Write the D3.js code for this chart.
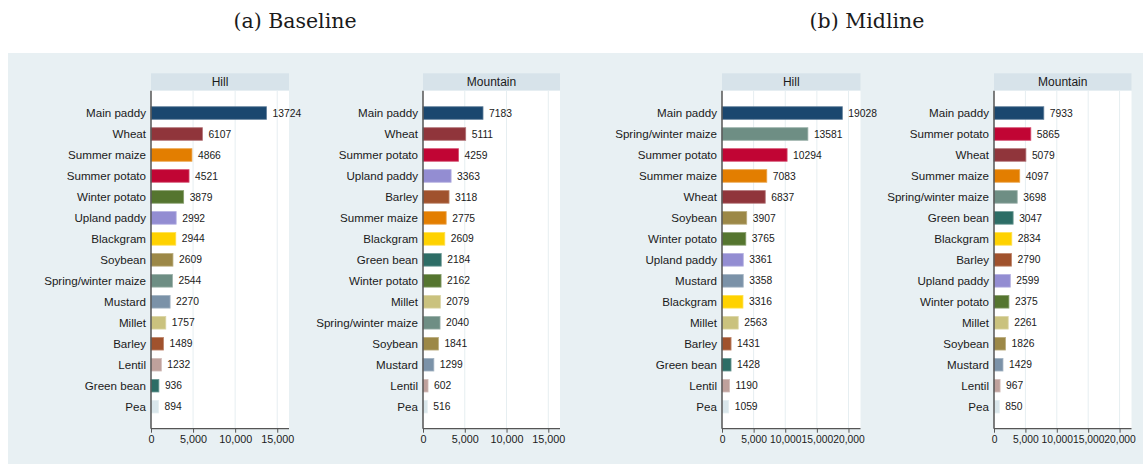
<!DOCTYPE html>
<html><head><meta charset="utf-8">
<script src="https://cdn.jsdelivr.net/npm/d3@7"></script>
<style>
html,body{margin:0;padding:0;background:#fff;}
svg{display:block;}
text{font-family:"Liberation Sans",Arial,sans-serif;}
</style></head>
<body>
<svg id="chart" width="1143" height="464"></svg>
<script>
// ---- Data ----
const crops = ["Main paddy","Wheat","Summer maize","Summer potato","Winter potato","Upland paddy","Blackgram","Soybean","Spring/winter maize","Mustard","Millet","Barley","Lentil","Green bean","Pea"];
const cropColors = ["#1a476f","#90353b","#e37e00","#c10534","#55752f","#938dd2","#ffd200","#9c8847","#6e8e84","#7b92a8","#cac27e","#a0522d","#bfa19c","#2d6d66","#d9e6eb"];

const baselineHillCrops = ["Main paddy","Wheat","Summer maize","Summer potato","Winter potato","Upland paddy","Blackgram","Soybean","Spring/winter maize","Mustard","Millet","Barley","Lentil","Green bean","Pea"];
const baselineHillValues = [13724,6107,4866,4521,3879,2992,2944,2609,2544,2270,1757,1489,1232,936,894];

const baselineMountainCrops = ["Main paddy","Wheat","Summer potato","Upland paddy","Barley","Summer maize","Blackgram","Green bean","Winter potato","Millet","Spring/winter maize","Soybean","Mustard","Lentil","Pea"];
const baselineMountainValues = [7183,5111,4259,3363,3118,2775,2609,2184,2162,2079,2040,1841,1299,602,516];

const midlineHillCrops = ["Main paddy","Spring/winter maize","Summer potato","Summer maize","Wheat","Soybean","Winter potato","Upland paddy","Mustard","Blackgram","Millet","Barley","Green bean","Lentil","Pea"];
const midlineHillValues = [19028,13581,10294,7083,6837,3907,3765,3361,3358,3316,2563,1431,1428,1190,1059];

const midlineMountainCrops = ["Main paddy","Summer potato","Wheat","Summer maize","Spring/winter maize","Green bean","Blackgram","Barley","Upland paddy","Winter potato","Millet","Soybean","Mustard","Lentil","Pea"];
const midlineMountainValues = [7933,5865,5079,4097,3698,3047,2834,2790,2599,2375,2261,1826,1429,967,850];

const baselineTicks = [0,5000,10000,15000];
const midlineTicks = [0,5000,10000,15000,20000];

const titles = ["(a) Baseline","(b) Midline"];
const panelTitles = ["Hill","Mountain","Hill","Mountain"];

// ---- Drawing ----
const svg = d3.select("#chart");
const color = d3.scaleOrdinal().domain(crops).range(cropColors);

svg.append("rect").attr("x",8).attr("y",53).attr("width",1135).attr("height",411).attr("fill","#e8f0f3");

svg.selectAll("text.title").data([{t:titles[0],x:295},{t:titles[1],x:867}]).join("text")
  .attr("class","title").attr("x",d=>d.x).attr("y",28).attr("text-anchor","middle")
  .style("font-family","'DejaVu Serif',serif").style("font-size","20.5px").attr("fill","#1a1a1a")
  .text(d=>d.t);

const panels = [
  {title:panelTitles[0], cats:baselineHillCrops, vals:baselineHillValues, x0:151, x1:289, max:16400, ticks:baselineTicks, tickFont:10.8},
  {title:panelTitles[1], cats:baselineMountainCrops, vals:baselineMountainValues, x0:423, x1:560, max:16400, ticks:baselineTicks, tickFont:10.8},
  {title:panelTitles[2], cats:midlineHillCrops, vals:midlineHillValues, x0:722, x1:860.5, max:21900, ticks:midlineTicks, tickFont:10.3},
  {title:panelTitles[3], cats:midlineMountainCrops, vals:midlineMountainValues, x0:994, x1:1131.5, max:21900, ticks:midlineTicks, tickFont:10.3}
];

const headTop = 73.3, plotTop = 90.7, plotBottom = 428.7;

panels.forEach(p => {
  const g = svg.append("g");
  const x = d3.scaleLinear().domain([0,p.max]).range([p.x0,p.x1]);
  const y = d3.scaleBand().domain(p.cats).range([plotTop+0.3, plotBottom]).paddingInner(0.4).paddingOuter(0.75);

  // header
  g.append("rect").attr("x",p.x0).attr("y",headTop).attr("width",p.x1-p.x0).attr("height",plotTop-headTop).attr("fill","#d7e3ea");
  g.append("text").attr("x",(p.x0+p.x1)/2).attr("y",headTop+12.8).attr("text-anchor","middle")
    .style("font-size","12px").attr("fill","#1a1a1a").text(p.title);
  // plot region
  g.append("rect").attr("x",p.x0).attr("y",plotTop).attr("width",p.x1-p.x0).attr("height",plotBottom-plotTop).attr("fill","#ffffff");
  // grid
  g.selectAll("line.grid").data(p.ticks.filter(t=>t>0)).join("line").attr("class","grid")
    .attr("x1",d=>x(d)).attr("x2",d=>x(d)).attr("y1",plotTop).attr("y2",plotBottom)
    .attr("stroke","#e6eef1").attr("stroke-width",1);

  const data = p.cats.map((c,i)=>({c, v:p.vals[i]}));
  // bars
  g.selectAll("rect.bar").data(data).join("rect").attr("class","bar")
    .attr("x",x(0)).attr("y",d=>y(d.c)).attr("width",d=>x(d.v)-x(0)).attr("height",y.bandwidth())
    .attr("fill",d=>color(d.c))
    .attr("stroke",d=>d3.interpolateRgb(color(d.c),"#ffffff")(0.3)).attr("stroke-width",0.8);
  // value labels
  g.selectAll("text.val").data(data).join("text").attr("class","val")
    .attr("x",d=>x(d.v)+6).attr("y",d=>y(d.c)+y.bandwidth()/2).attr("dy","0.35em")
    .style("font-size","10.3px").attr("fill","#1a1a1a").text(d=>d.v);
  // category labels
  g.selectAll("text.cat").data(data).join("text").attr("class","cat")
    .attr("x",p.x0-5).attr("y",d=>y(d.c)+y.bandwidth()/2).attr("dy","0.36em").attr("text-anchor","end")
    .style("font-size","11.6px").attr("fill","#1a1a1a").text(d=>d.c);

  // x axis
  const ax = g.append("g").attr("transform",`translate(0,${plotBottom})`)
    .call(d3.axisBottom(x).tickValues(p.ticks).tickSize(4).tickPadding(3).tickFormat(d3.format(",")));
  ax.select(".domain").attr("stroke","#555").attr("stroke-width",1.2).attr("d",`M${p.x0},0H${p.x1}`);
  ax.selectAll(".tick line").attr("stroke","#555");
  ax.selectAll(".tick text").style("font-size",p.tickFont+"px").attr("fill","#1a1a1a").style("font-family","'Liberation Sans',Arial,sans-serif");
  // y axis line
  g.append("line").attr("x1",p.x0).attr("x2",p.x0).attr("y1",plotTop).attr("y2",plotBottom)
    .attr("stroke","#555").attr("stroke-width",1.5);
});
</script>
</body></html>
